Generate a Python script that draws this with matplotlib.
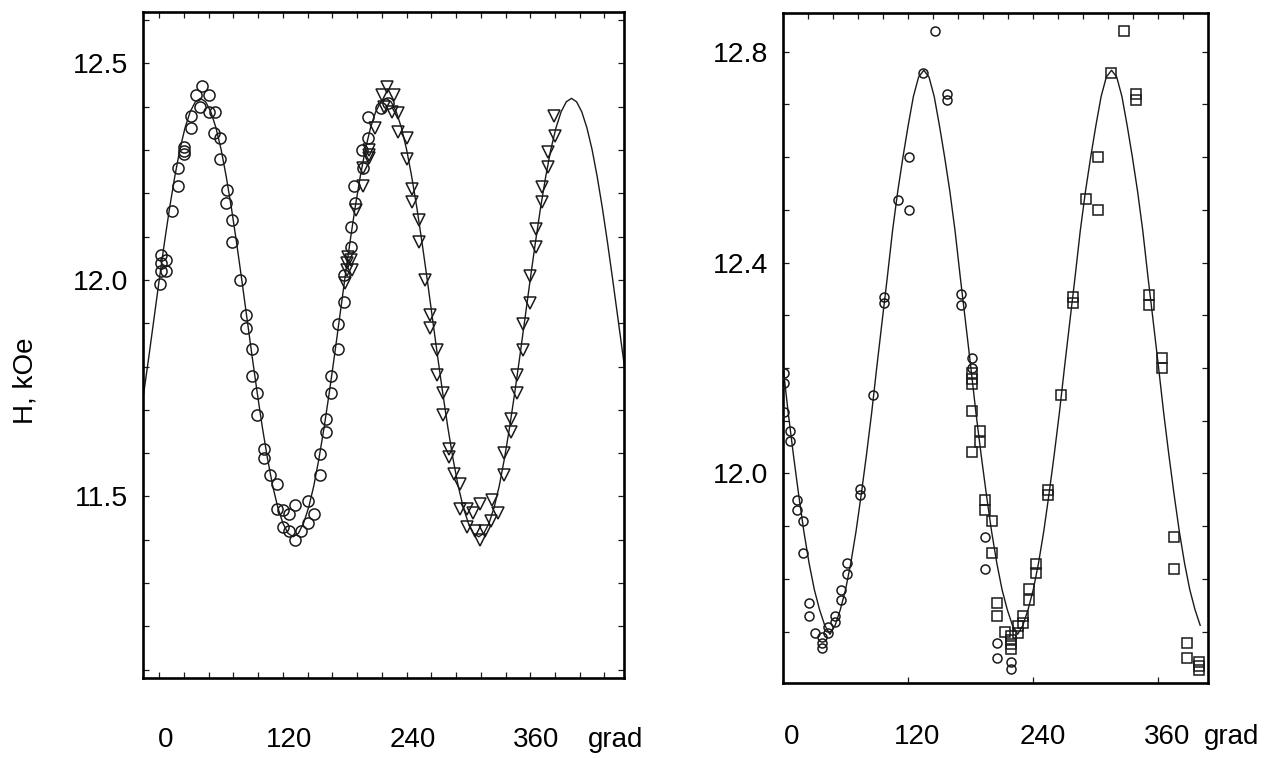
"""Angular dependence of the resonance field H(theta): two panels, data points and fit curve."""

import matplotlib

matplotlib.use("Agg")
import matplotlib.pyplot as plt
from matplotlib.ticker import MultipleLocator

plt.rcParams.update(
    {
        "font.family": ["Liberation Sans", "DejaVu Sans"],
        "font.size": 20,
        "axes.linewidth": 1.9,
    }
)

# ---- left panel: measured points (angle, deg ; H, kOe) ----
left_circ_ang = [
    2, 7, 2, 2, 7, 1, 12, 18, 18, 24, 24, 24, 31, 31,
    41, 36, 48, 40, 48, 54, 53, 59, 59, 66, 65, 71, 71, 78,
    84, 84, 90, 90, 95, 95, 102, 102, 107, 114, 114, 120, 126, 132,
    120, 126, 132, 138, 144, 144, 150, 156, 156, 162, 162, 167, 167, 173, 173, 179,
    179, 186, 186, 190, 189, 197, 198, 203, 203, 215, 222,
]
left_circ_h = [
    12.057, 12.046, 12.040, 12.021, 12.021, 11.990, 12.160, 12.217, 12.258, 12.306, 12.298, 12.291, 12.350, 12.378,
    12.448, 12.427, 12.427, 12.398, 12.388, 12.387, 12.340, 12.328, 12.278, 12.207, 12.178, 12.138, 12.088, 12.000,
    11.919, 11.888, 11.840, 11.779, 11.738, 11.688, 11.609, 11.588, 11.549, 11.528, 11.471, 11.469, 11.459, 11.480,
    11.429, 11.421, 11.399, 11.421, 11.439, 11.490, 11.459, 11.549, 11.599, 11.649, 11.679, 11.738, 11.779, 11.840, 11.897, 11.950,
    12.011, 12.077, 12.123, 12.177, 12.217, 12.300, 12.258, 12.327, 12.377, 12.396, 12.408,
]

left_tri_ang = [
    180.5, 182.5, 187, 182.5, 186.5, 183.5, 191.3, 198, 198, 204, 204, 204, 209.7,
    221, 216, 227.5, 218, 226, 232,
    232, 240.5, 240, 245, 245, 252, 252, 257.5, 263, 263, 269.5, 269.5, 275.5, 275.5,
    281, 281, 286.5, 292, 292, 298.5, 304.5, 311, 298.5, 306, 311, 316.5, 322, 328.5, 323,
    335, 335, 341, 341, 347, 347.5, 353, 353, 359.5, 359.5, 365.5, 365.5, 371.5, 371.5,
    377.5, 377.5, 384, 383,
]
left_tri_h = [
    11.992, 12.023, 12.023, 12.039, 12.046, 12.053, 12.161, 12.217, 12.258, 12.281, 12.288, 12.300, 12.350,
    12.446, 12.427, 12.427, 12.400, 12.388, 12.386,
    12.342, 12.327, 12.278, 12.209, 12.180, 12.138, 12.088, 12.000, 11.919, 11.888, 11.838, 11.780, 11.738, 11.688,
    11.609, 11.590, 11.553, 11.529, 11.472, 11.472, 11.461, 11.482, 11.430, 11.421, 11.399, 11.421, 11.444, 11.461, 11.492,
    11.549, 11.600, 11.649, 11.678, 11.738, 11.780, 11.838, 11.897, 11.947, 12.010, 12.076, 12.118, 12.180, 12.215,
    12.261, 12.296, 12.331, 12.378,
]

# left panel fit curve, read every 5 deg
left_fit_ang = [
    -20, -15, -10, -5, 0, 5, 10, 15, 20, 25, 30, 35, 40, 45, 50, 55, 60, 65, 70, 75,
    80, 85, 90, 95, 100, 105, 110, 115, 120, 125, 130, 135, 140, 145, 150, 155, 160, 165, 170, 175,
    180, 185, 190, 195, 200, 205, 210, 215, 220, 225, 230, 235, 240, 245, 250, 255, 260, 265, 270, 275,
    280, 285, 290, 295, 300, 305, 310, 315, 320, 325, 330, 335, 340, 345, 350, 355, 360, 365, 370, 375,
    380, 385, 390, 395, 400, 405, 410, 415, 420, 425, 430, 435, 440, 445, 450, 455,
]
left_fit_h = [
    11.660, 11.740, 11.825, 11.913, 12.001, 12.086, 12.166, 12.238, 12.301, 12.351, 12.388, 12.411,
    12.419, 12.411, 12.388, 12.351, 12.301, 12.238, 12.166, 12.086, 12.001, 11.913, 11.825, 11.740,
    11.660, 11.588, 11.525, 11.475, 11.438, 11.415, 11.407, 11.415, 11.438, 11.475, 11.525, 11.588,
    11.660, 11.740, 11.825, 11.913, 12.001, 12.086, 12.166, 12.238, 12.301, 12.351, 12.388, 12.411,
    12.419, 12.411, 12.388, 12.351, 12.301, 12.238, 12.166, 12.086, 12.001, 11.913, 11.825, 11.740,
    11.660, 11.588, 11.525, 11.475, 11.438, 11.415, 11.407, 11.415, 11.438, 11.475, 11.525, 11.588,
    11.660, 11.740, 11.825, 11.913, 12.001, 12.086, 12.166, 12.238, 12.301, 12.351, 12.388, 12.411,
    12.419, 12.411, 12.388, 12.351, 12.301, 12.238, 12.166, 12.086, 12.001, 11.913, 11.825, 11.740,
]

# ---- right panel: measured points ----
right_circ_ang = [
    146, 133.9, 157.7, 157.7, 121.2, 110, 121.2, 97.3, 97.3, 170.5, 170.5,
    1, 1, 1, 6.6, 6.6, 86.1, 73.4, 73.4, 13, 13, 19.3, 19.3, 24.7, 24.7, 31.1,
    37.4, 37.4, 37.4, 43.2, 43.2, 49.5, 49.5, 55.9, 55.9, 61.7, 61.7,
    181.6, 181.6, 193.7, 193.7, 205.4, 205.4, 218.5, 218.5,
]
right_circ_h = [
    12.839, 12.759, 12.720, 12.708, 12.600, 12.519, 12.499, 12.335, 12.324, 12.340, 12.320,
    12.190, 12.171, 12.117, 12.080, 12.061, 12.149, 11.970, 11.960, 11.949, 11.930, 11.909, 11.850, 11.754, 11.730, 11.698,
    11.689, 11.679, 11.669, 11.709, 11.698, 11.730, 11.719, 11.779, 11.760, 11.830, 11.810,
    12.219, 12.200, 11.880, 11.819, 11.679, 11.650, 11.642, 11.629,
]

right_sq_ang = [
    181.6, 181.6, 181.6, 181.6, 188.9, 188.9, 181.6, 193.7, 193.7, 200.7, 200.7, 205.4, 205.4,
    212.8, 218.5, 218.5, 218.5, 218.5, 224.9, 224.9, 230.3, 230.3, 236, 236, 242.4, 242.4,
    254.1, 254.1, 266.3,
    326.7, 314.7, 338.8, 338.8, 302.2, 290.8, 302.2, 278.4, 278.4, 351.2, 351.2,
    363.3, 363.3, 375.1, 375.1, 387.2, 387.2, 399.3, 399.3, 399.3,
]
right_sq_h = [
    12.190, 12.179, 12.170, 12.119, 12.080, 12.059, 12.040, 11.949, 11.930, 11.909, 11.850, 11.754, 11.730,
    11.700, 11.692, 11.685, 11.677, 11.667, 11.710, 11.698, 11.730, 11.717, 11.781, 11.760, 11.829, 11.811,
    11.969, 11.960, 12.149,
    12.840, 12.760, 12.720, 12.708, 12.600, 12.520, 12.499, 12.335, 12.324, 12.339, 12.320,
    12.219, 12.200, 11.880, 11.819, 11.679, 11.650, 11.642, 11.635, 11.627,
]

# right panel fit curve, read every 5 deg
right_fit_ang = [
    0, 5, 10, 15, 20, 25, 30, 35, 40, 45, 50, 55, 60, 65, 70, 75, 80, 85, 90, 95,
    100, 105, 110, 115, 120, 125, 130, 135, 140, 145, 150, 155, 160, 165, 170, 175, 180, 185, 190, 195,
    200, 205, 210, 215, 220, 225, 230, 235, 240, 245, 250, 255, 260, 265, 270, 275, 280, 285, 290, 295,
    300, 305, 310, 315, 320, 325, 330, 335, 340, 345, 350, 355, 360, 365, 370, 375, 380, 385, 390, 395,
    400,
]
right_fit_h = [
    12.203, 12.115, 12.035, 11.960, 11.890, 11.830, 11.780, 11.742, 11.712, 11.695,
    11.712, 11.742, 11.780, 11.830, 11.890, 11.960, 12.035, 12.115, 12.203, 12.288,
    12.372, 12.460, 12.535, 12.600, 12.660, 12.715, 12.752, 12.765,
    12.752, 12.715, 12.660, 12.600, 12.535, 12.460, 12.372, 12.288, 12.203, 12.115,
    12.035, 11.960, 11.890, 11.830, 11.780, 11.742, 11.712, 11.695,
    11.712, 11.742, 11.780, 11.830, 11.890, 11.960, 12.035, 12.115, 12.203, 12.288,
    12.372, 12.460, 12.535, 12.600, 12.660, 12.715, 12.752, 12.765,
    12.752, 12.715, 12.660, 12.600, 12.535, 12.460, 12.372, 12.288, 12.203, 12.115,
    12.035, 11.960, 11.890, 11.830, 11.780, 11.742, 11.712,
]

x_ticks = [0, 120, 240, 360]
left_yticks = [11.5, 12.0, 12.5]
right_yticks = [12.0, 12.4, 12.8]

W, H = 1285, 758
fig = plt.figure(figsize=(W / 100, H / 100), dpi=100)
ax1 = fig.add_axes([143 / W, 1 - 678 / H, (624 - 143) / W, (678 - 11.7) / H])
ax2 = fig.add_axes([783 / W, 1 - 683.3 / H, (1208 - 783) / W, (683.3 - 13.3) / H])

ink = "#1a1a1a"
mk = dict(linestyle="none", markerfacecolor="none", markeredgecolor=ink, markeredgewidth=1.1)

ax1.plot(left_fit_ang, left_fit_h, color=ink, lw=1.0, zorder=2)
ax1.plot(left_circ_ang, left_circ_h, marker="o", markersize=8, **mk, zorder=3)
ax1.plot(left_tri_ang, left_tri_h, marker="v", markersize=8.5, **mk, zorder=3)
ax1.set_xlim(-15.8, 451)
ax1.set_ylim(11.081, 12.619)

ax2.plot(right_fit_ang, right_fit_h, color=ink, lw=1.0, zorder=2)
ax2.plot(right_circ_ang, right_circ_h, marker="o", markersize=6.5, **mk, zorder=3)
ax2.plot(right_sq_ang, right_sq_h, marker="s", markersize=6.5, **mk, zorder=3)
ax2.set_xlim(1.8, 407.5)
ax2.set_ylim(11.602, 12.873)

for ax, yt, xpad, xshift, grad_dx in (
    (ax1, left_yticks, 35, 4.5, -26),
    (ax2, right_yticks, 29, 6.5, -3),
):
    ax.set_xticks(x_ticks)
    ax.set_xticklabels([])
    ax.xaxis.set_minor_locator(MultipleLocator(24))
    ax.set_yticks(yt)
    ax.set_yticklabels([f"{v:.1f}" for v in yt])
    ax.yaxis.set_minor_locator(MultipleLocator(0.1))
    ax.tick_params(which="both", direction="in", top=True, right=True,
                   length=4, width=0.9, color=ink)
    ax.tick_params(axis="y", pad=10.5, labelsize=20.5)
    for t in x_ticks:
        ax.annotate(str(t), xy=(t, 0), xycoords=("data", "axes fraction"),
                    xytext=(xshift, -xpad), textcoords="offset points",
                    ha="center", va="top", fontsize=20)
    ax.annotate("grad", xy=(1, 0), xycoords="axes fraction",
                xytext=(grad_dx, -xpad), textcoords="offset points",
                ha="left", va="top", fontsize=20)

ax2.tick_params(axis="x", which="minor", bottom=False)

fig.text(25 / W, 1 - 381 / H, "H, kOe", rotation=90, ha="center", va="center", fontsize=20)

fig.savefig("out.png", dpi=100)
